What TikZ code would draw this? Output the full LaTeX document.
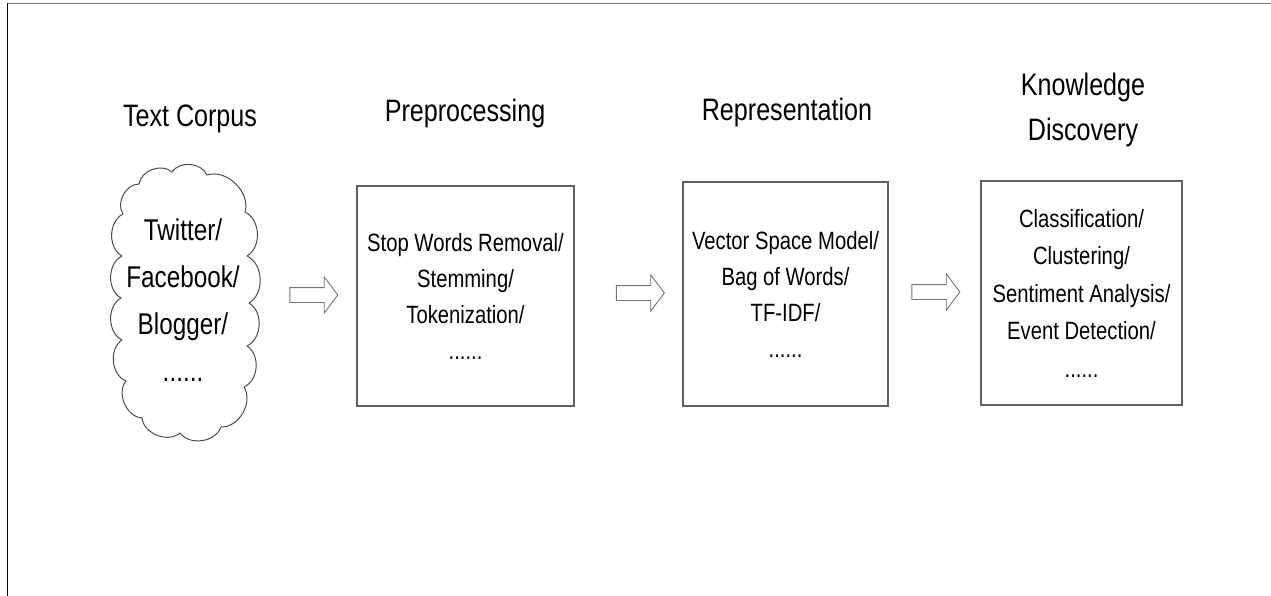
\documentclass[tikz,border=0pt]{standalone}
\usepackage{fontspec}
\setmainfont{Liberation Sans}[FakeStretch=0.81]
\usetikzlibrary{shapes.arrows}
\begin{document}
\begin{tikzpicture}[x=1pt,y=-1pt,
  stage/.style={draw=black!62, line width=1.4pt, align=center, inner sep=0pt,
    font=\fontsize{25}{36}\selectfont},
  heading/.style={font=\fontsize{31}{45}\selectfont, align=center},
  flow/.style={single arrow, draw=black!55, line width=0.9pt, minimum height=48pt,
    inner xsep=0pt, inner ysep=7pt, single arrow head extend=10.5pt,
    single arrow tip angle=106, single arrow head indent=0pt},
  puffline/.style={draw=black!70, line width=1pt, line join=round}
]
\useasboundingbox (0,0) rectangle (1271,596);

% frame edges
\draw[black!55, line width=1.4pt] (7.5,3.5) -- (1271,3.5);
\draw[black, line width=1.5pt] (7.5,3.5) -- (7.5,596);

% stage headings
\node[heading, anchor=base] (h1) at (190,127) {Text Corpus};
\node[heading, anchor=base] (h2) at (465,122) {Preprocessing};
\node[heading, anchor=base] (h3) at (787,121) {Representation};
\node[heading] (h4) at (1083,109.5) {Knowledge\\Discovery};

% text sources: a hand-drawn cloud of puffs
\draw[puffline] (123,214)
  \foreach \px/\py in {139/184,172/172,207/175,245/212,247/256,249/303,
                       247/346,244/387,221/427,180/433,142/418,126/381,
                       122/340,121/298,122/256,123/214}
  { to[bend left=62] (\px,\py) } -- cycle;
\node[font=\fontsize{30}{47}\selectfont, align=center] (srctext) at (183,300)
  {Twitter/\\Facebook/\\Blogger/\\......};

% processing stages
\node[stage, minimum width=217pt, minimum height=220pt] (pre) at (465.5,296)
  {Stop Words Removal/\\Stemming/\\Tokenization/\\......};
\node[stage, minimum width=205pt, minimum height=224pt] (rep) at (785.5,294)
  {Vector Space Model/\\Bag of Words/\\TF-IDF/\\......};
\node[stage, minimum width=201pt, minimum height=224pt,
  font=\fontsize{25}{37.5}\selectfont] (kd) at (1081.5,293)
  {Classification/\\Clustering/\\Sentiment Analysis/\\Event Detection/\\......};

% flow arrows between stages
\node[flow] (a1) at (311,295) {};
\node[flow] (a2) at (637.5,293) {};
\node[flow] (a3) at (933,292) {};
\end{tikzpicture}
\end{document}
